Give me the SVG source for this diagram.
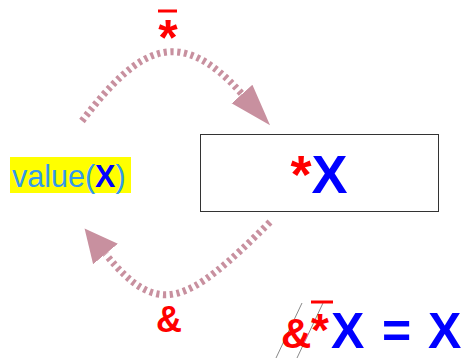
<svg xmlns="http://www.w3.org/2000/svg" width="466" height="360" viewBox="0 0 466 360">
<style>
.conn{fill:none;stroke:#c8909f;stroke-width:7;stroke-dasharray:3.2 3.6}
.head{fill:#c8909f}
.t{font-family:"Liberation Sans",Arial,sans-serif;font-weight:bold}
.red{fill:#ff0000}
.blue{fill:#0000ff}
.lb{fill:#3399ee;font-weight:normal}
</style>
<defs>
<marker id="headTop" markerUnits="userSpaceOnUse" markerWidth="50" markerHeight="40" refX="0" refY="20" orient="auto" viewBox="0 0 50 40">
<path class="head" d="M0,6 L42,20 L0,34 Z"/>
</marker>
<marker id="headBottom" markerUnits="userSpaceOnUse" markerWidth="40" markerHeight="40" refX="0" refY="20" orient="auto" viewBox="0 0 40 40">
<path class="head" d="M0,4 L33,20 L0,36 Z"/>
</marker>
</defs>
<rect width="466" height="360" fill="#ffffff"/>
<g id="connectors">
<path class="conn" d="M82,121 C140,45 180,25 242,94" marker-end="url(#headTop)"/>
<path class="conn" d="M270,222 C186,306 158,318 105.5,254" marker-end="url(#headBottom)"/>
</g>
<g id="value-node">
<rect x="10" y="157" width="121" height="36" fill="#ffff00"/>
<text class="t" x="12" y="187" font-size="30.5"><tspan class="lb">value(</tspan><tspan class="blue">X</tspan><tspan class="lb">)</tspan></text>
</g>
<g id="deref-node">
<rect x="200.5" y="134.5" width="238" height="77" fill="#ffffff" stroke="#333333" stroke-width="1"/>
<text class="t" x="319" y="193" font-size="54" text-anchor="middle"><tspan class="red">*</tspan><tspan class="blue">X</tspan></text>
</g>
<g id="label-top">
<text class="t red" x="168" y="55" font-size="50" text-anchor="middle">*</text>
<line x1="158" y1="11" x2="177" y2="11" stroke="#ff0000" stroke-width="3"/>
</g>
<g id="label-bottom">
<text class="t red" x="169" y="332" font-size="36" text-anchor="middle">&amp;</text>
</g>
<g id="identity">
<line x1="302" y1="303" x2="276" y2="358" stroke="#888888" stroke-width="1"/>
<line x1="323" y1="303" x2="297" y2="358" stroke="#888888" stroke-width="1"/>
<text class="t red" x="281" y="348" font-size="42">&amp;</text>
<text class="t red" x="311" y="346" font-size="46">*</text>
<line x1="311" y1="302" x2="333" y2="302" stroke="#ff0000" stroke-width="3"/>
<text class="t blue" font-size="50" y="348"><tspan x="331">X</tspan><tspan x="382">=</tspan><tspan x="428">X</tspan></text>
</g>
</svg>
